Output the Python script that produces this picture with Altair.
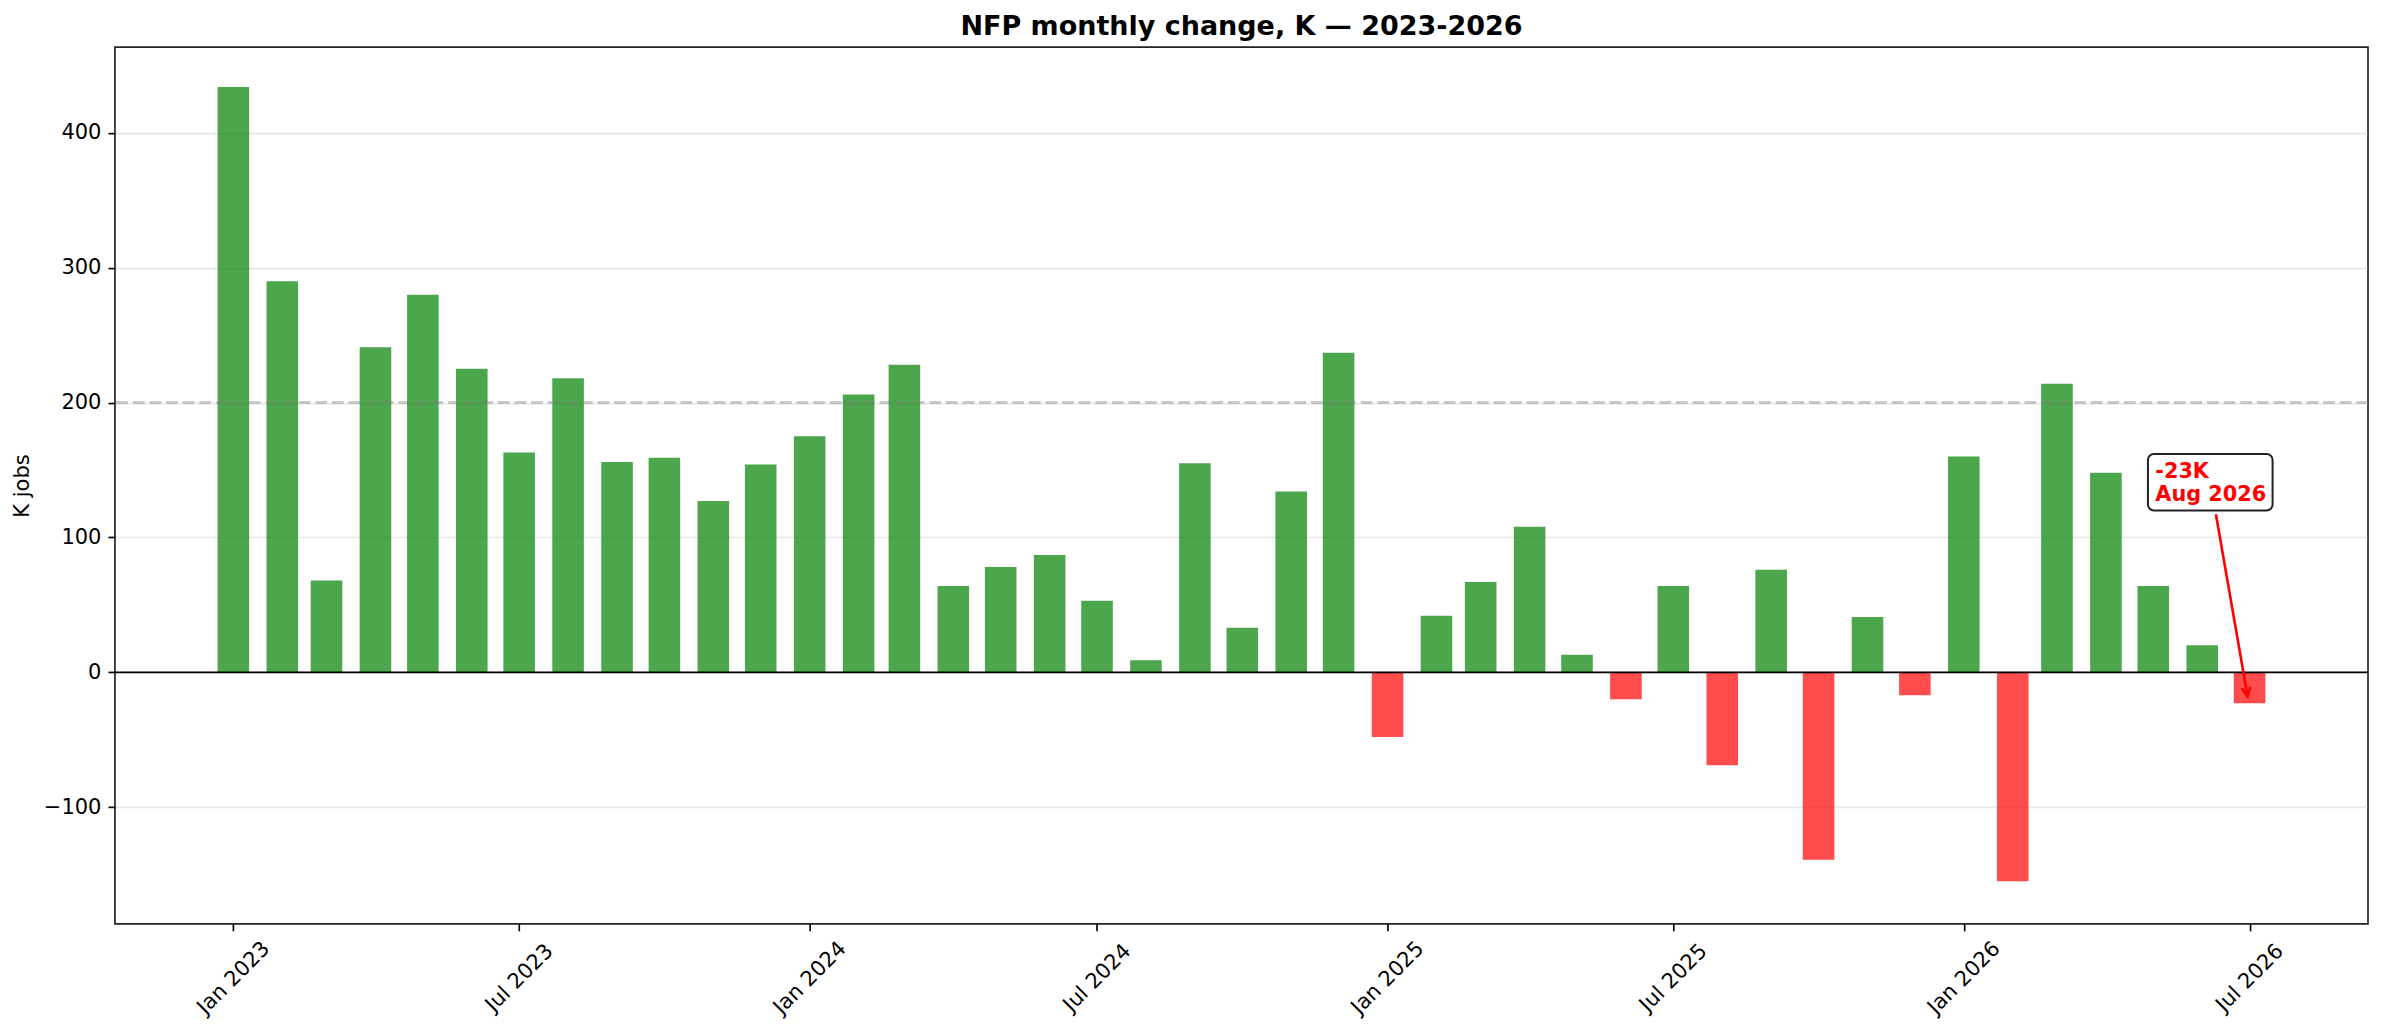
import altair as alt
import pandas as pd

# ---------------- data ----------------
first_month = "2023-01-01"
last_month = "2026-07-01"
values_2023 = [434, 290, 68, 241, 280, 225, 163, 218, 156, 159, 127, 154]
values_2024 = [175, 206, 228, 64, 78, 87, 53, 9, 155, 33, 134, 237]
values_2025 = [-48, 42, 67, 108, 13, -20, 64, -69, 76, -139, 41, -17]
values_2026 = [160, -155, 214, 148, 64, 20, -23]
reference_level = 200
annotation_lines = ["-23K", "Aug 2026"]
tick_dates = ["2023-01-01", "2023-07-01", "2024-01-01", "2024-07-01",
              "2025-01-01", "2025-07-01", "2026-01-01", "2026-07-01"]
title_text = "NFP monthly change, K \u2014 2023-2026"
y_title = "K jobs"

values = values_2023 + values_2024 + values_2025 + values_2026
months = pd.date_range(first_month, last_month, freq="MS")
half_width = pd.Timedelta(days=10)

df = pd.DataFrame({
    "date": months.strftime("%Y-%m-%dT%H:%M:%S"),
    "start": (months - half_width).strftime("%Y-%m-%dT%H:%M:%S"),
    "end": (months + half_width).strftime("%Y-%m-%dT%H:%M:%S"),
    "value": values,
})
last = df.iloc[[-1]].reset_index(drop=True)

# ---------------- styling ----------------
FONT = "DejaVu Sans"
LW = 1.67


def dt(s):
    t = pd.Timestamp(s)
    return alt.DateTime(year=t.year, month=t.month, date=t.day)


x_scale = alt.Scale(domain=[dt("2022-10-18"), dt("2026-09-14")], nice=False)
y_scale = alt.Scale(domain=[-186.5, 463.5], nice=False, zero=False)

x_axis = alt.Axis(values=[dt(d) for d in tick_dates], format="%b %Y",
                  labelAngle=315, labelAlign="center", labelBaseline="middle",
                  labelPadding=47, labelOverlap=False, labelBound=False,
                  labelFlush=False,
                  grid=False, domain=False, tickSize=7, tickWidth=LW,
                  tickColor="black", labelColor="black",
                  labelFont=FONT, labelFontSize=21)
y_axis = alt.Axis(values=[-100, 0, 100, 200, 300, 400], grid=True,
                  gridColor="#b0b0b0", gridOpacity=0.3, gridWidth=LW,
                  domain=False, tickSize=7, tickWidth=LW, tickColor="black",
                  labelColor="black", labelFont=FONT, labelFontSize=21,
                  labelPadding=7, titleFont=FONT, titleFontSize=21,
                  titleFontWeight="normal", titleColor="black",
                  titlePadding=11)

bars = alt.Chart(df).mark_bar(opacity=0.7).encode(
    x=alt.X("start:T", scale=x_scale, title=None, axis=x_axis),
    x2="end:T",
    y=alt.Y("value:Q", scale=y_scale, title=y_title, axis=y_axis),
    y2=alt.datum(0),
    color=alt.condition(alt.datum.value >= 0, alt.value("green"), alt.value("red")),
)

ref_line = alt.Chart(pd.DataFrame({"value": [reference_level]})).mark_rule(
    color="gray", opacity=0.4, strokeWidth=3.1, strokeDash=[11.6, 5]
).encode(y=alt.Y("value:Q", scale=y_scale, title=y_title))

zero_line = alt.Chart(pd.DataFrame({"value": [0]})).mark_rule(
    color="black", strokeWidth=LW
).encode(y=alt.Y("value:Q", scale=y_scale, title=y_title))

# annotation anchored to the last data point, offsets in pixels
ann_x = alt.X("date:T", scale=x_scale, title=None)
ann_y = alt.Y("value:Q", scale=y_scale, title=y_title)

box = alt.Chart(last).mark_rect(
    fill="white", stroke="#222222", strokeWidth=2, cornerRadius=6,
    xOffset=-101.7, x2Offset=23, yOffset=-249.5, y2Offset=-192.9
).encode(x=ann_x, x2="date:T", y=ann_y, y2="value:Q")

label = alt.Chart(last).mark_text(
    text=annotation_lines, color="red", font=FONT, fontSize=20.8, fontWeight="bold",
    align="left", baseline="alphabetic", lineHeight=23, dx=-94.3, dy=-225.9
).encode(x=ann_x, y=ann_y)

arrow = alt.Chart(last).mark_rule(
    color="red", strokeWidth=2.6,
    xOffset=-33.7, yOffset=-189.2, x2Offset=-2, y2Offset=-6.9
).encode(x=ann_x, x2="date:T", y=ann_y, y2="value:Q")

head = alt.Chart(last).mark_point(
    shape="M -0.5 -1 L 0 0 L 0.5 -1", size=324, angle=350, filled=False,
    stroke="red", strokeWidth=2.6, opacity=1, xOffset=-2, yOffset=-6.9
).encode(x=ann_x, y=ann_y)

chart = alt.layer(bars, ref_line, zero_line, arrow, head, box, label).properties(
    width=2254, height=877,
    autosize=alt.AutoSizeParams(type="none"),
    padding={"left": 107, "top": 39, "right": 8, "bottom": 100},
    title=alt.TitleParams(title_text, font=FONT, fontSize=27, fontWeight="bold",
                          color="black", anchor="middle", frame="group",
                          baseline="alphabetic", offset=12.7, dy=27),
).configure_view(stroke="#222222", strokeWidth=LW)

chart.save("out.html", embed_options={"renderer": "svg", "actions": False})
